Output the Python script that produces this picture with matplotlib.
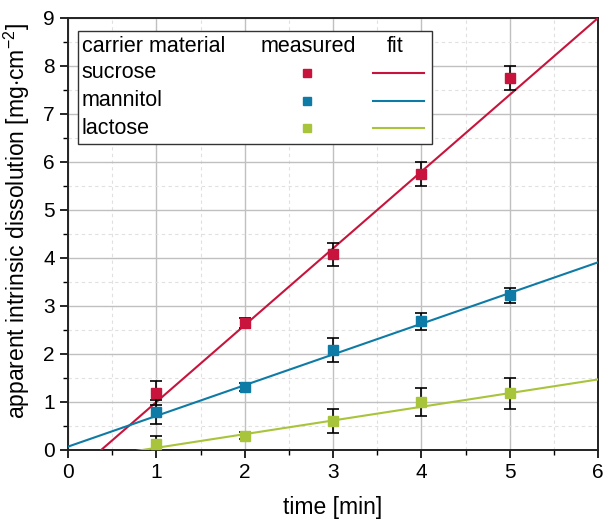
import numpy as np
import matplotlib
matplotlib.use("Agg")
import matplotlib.pyplot as plt
from matplotlib.patches import Rectangle
from matplotlib.lines import Line2D
from matplotlib.ticker import MultipleLocator

plt.rcParams['font.family'] = ['Liberation Sans', 'DejaVu Sans']
plt.rcParams['mathtext.fontset'] = 'custom'
plt.rcParams['mathtext.rm'] = 'Liberation Sans'
plt.rcParams['mathtext.it'] = 'Liberation Sans:italic'

# data
materials = ["sucrose", "mannitol", "lactose"]
colors = ["#c8143c", "#0e7ba6", "#a8c43a"]
time_min = [1, 2, 3, 4, 5]
measured = [
    [1.18, 2.65, 4.08, 5.75, 7.75],
    [0.80, 1.31, 2.08, 2.68, 3.22],
    [0.12, 0.30, 0.60, 1.00, 1.18],
]
errors = [
    [0.25, 0.10, 0.24, 0.24, 0.24],
    [0.25, 0.08, 0.25, 0.18, 0.16],
    [0.17, 0.08, 0.25, 0.29, 0.33],
]
# linear fits: slope, intercept
fit_slope = [1.60, 0.64, 0.285]
fit_icept = [-0.60, 0.07, -0.24]

fig = plt.figure(figsize=(6.03, 5.23), dpi=100)
ax = fig.add_axes([0.1128, 0.1396, 0.879, 0.826])

xx = np.linspace(0, 6, 200)
for i in range(3):
    ax.plot(xx, fit_slope[i] * xx + fit_icept[i], color=colors[i], lw=1.5, zorder=3)
    ax.errorbar(time_min, measured[i], yerr=errors[i], fmt='none', ecolor='black',
                elinewidth=1.2, capsize=4, capthick=1.2, zorder=4)
    ax.plot(time_min, measured[i], 's', color=colors[i], ms=7.5, zorder=5)

ax.set_xlim(0, 6)
ax.set_ylim(0, 9)
ax.xaxis.set_major_locator(MultipleLocator(1))
ax.xaxis.set_minor_locator(MultipleLocator(0.5))
ax.yaxis.set_major_locator(MultipleLocator(1))
ax.yaxis.set_minor_locator(MultipleLocator(0.5))
ax.grid(which='major', color='#c0c0c0', lw=1.0)
ax.grid(which='minor', color='#e0e0e0', lw=0.8, ls=(0, (3, 3)))
ax.set_axisbelow(True)
ax.tick_params(which='major', direction='out', length=6, width=1.2, labelsize=15)
ax.tick_params(which='minor', direction='out', length=3.5, width=1.0)
for s in ax.spines.values():
    s.set_linewidth(1.4)
    s.set_color('#222222')

ax.set_xlabel("time [min]", fontsize=16.5, labelpad=10)
ax.set_ylabel(r"apparent intrinsic dissolution [mg$\cdot$cm$^{-2}$]", fontsize=16.5)
ax.yaxis.set_label_coords(-0.068, 0.53)

# hand-built legend table
tr = ax.transAxes
ax.add_patch(Rectangle((0.019, 0.709), 0.668, 0.261, transform=tr, fill=True,
                       facecolor='white', edgecolor='#333333', lw=1.0, zorder=6))
rows_y = [0.933, 0.873, 0.808, 0.745]
ax.text(0.026, rows_y[0], "carrier material", transform=tr, fontsize=15.5, va='center', zorder=7)
ax.text(0.453, rows_y[0], "measured", transform=tr, fontsize=15.5, va='center', ha='center', zorder=7)
ax.text(0.617, rows_y[0], "fit", transform=tr, fontsize=15.5, va='center', ha='center', zorder=7)
for i in range(3):
    y = rows_y[i + 1]
    ax.text(0.026, y, materials[i], transform=tr, fontsize=15.5, va='center', zorder=7)
    ax.add_line(Line2D([0.451], [y], transform=tr, marker='s', ms=6, color=colors[i],
                       ls='none', zorder=7))
    ax.add_line(Line2D([0.575, 0.672], [y, y], transform=tr, color=colors[i], lw=1.5, zorder=7))

fig.savefig("out.png", dpi=100)
